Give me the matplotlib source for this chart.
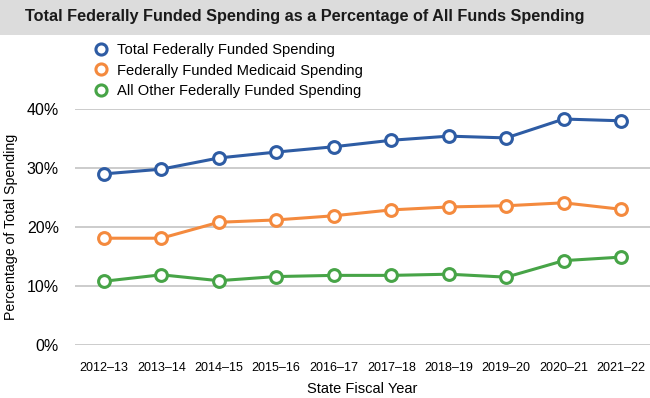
import numpy as np
import matplotlib.pyplot as plt

plt.rcParams['font.family'] = ['Liberation Sans', 'DejaVu Sans']

years = ['2012–13', '2013–14', '2014–15', '2015–16', '2016–17',
         '2017–18', '2018–19', '2019–20', '2020–21', '2021–22']
total = [29.0, 29.8, 31.7, 32.7, 33.6, 34.7, 35.4, 35.1, 38.3, 38.0]
medicaid = [18.1, 18.1, 20.8, 21.2, 21.9, 22.9, 23.4, 23.6, 24.1, 23.0]
other = [10.8, 11.9, 10.9, 11.6, 11.8, 11.8, 12.0, 11.5, 14.3, 14.9]
labels = ['Total Federally Funded Spending',
          'Federally Funded Medicaid Spending',
          'All Other Federally Funded Spending']
colors = ['#2e5ca4', '#f48a3e', '#47a447']

fig = plt.figure(figsize=(6.5, 3.98), dpi=100)

# barra cinza do título
fig.patches.append(plt.Rectangle((0, 1 - 35 / 398), 1, 35 / 398, transform=fig.transFigure,
                                 facecolor='#dcdcdc', edgecolor='none'))
fig.text(25 / 650, 1 - 16.5 / 398, 'Total Federally Funded Spending as a Percentage of All Funds Spending',
         fontsize=11.7, fontweight='bold', va='center', ha='left', color='#1a1a1a')

ax = fig.add_axes([75 / 650, 1 - 345 / 398, 575 / 650, 236 / 398])
x = np.arange(len(years))
for serie, lab, c in zip([total, medicaid, other], labels, colors):
    ax.plot(x, serie, color=c, lw=2.2, marker='o', ms=8.5, mfc='white', mec=c, mew=2.2,
            label=lab, clip_on=False, zorder=3)

ax.set_ylim(0, 40)
ax.set_xlim(-0.5, 9.5)
ax.set_yticks([0, 10, 20, 30, 40])
ax.set_yticklabels(['0%', '10%', '20%', '30%', '40%'], fontsize=11.5)
ax.set_xticks(x)
ax.set_xticklabels(years, fontsize=9.0)
ax.tick_params(length=0)
ax.tick_params(axis='x', pad=12)
ax.tick_params(axis='y', pad=11.5)
ax.grid(axis='y', color='#c8c8c8', lw=1.3)
ax.set_axisbelow(True)
for s in ax.spines.values():
    s.set_visible(False)

ax.set_xlabel('State Fiscal Year', fontsize=10.5, labelpad=6)
ax.set_ylabel('Percentage of Total Spending', fontsize=10.2)
ax.yaxis.set_label_coords(-57 / 575, 0.5)

leg = ax.legend(loc='upper left', bbox_to_anchor=(20 / 575, 1 + 66 / 236), frameon=False,
                fontsize=10.6, handlelength=0.8, handletextpad=0.7, labelspacing=0.45,
                borderaxespad=0, borderpad=0)
for h in leg.legend_handles:
    h.set_linestyle('none')
    h.set_markersize(8)

plt.savefig('out.png', dpi=100)
plt.close()
